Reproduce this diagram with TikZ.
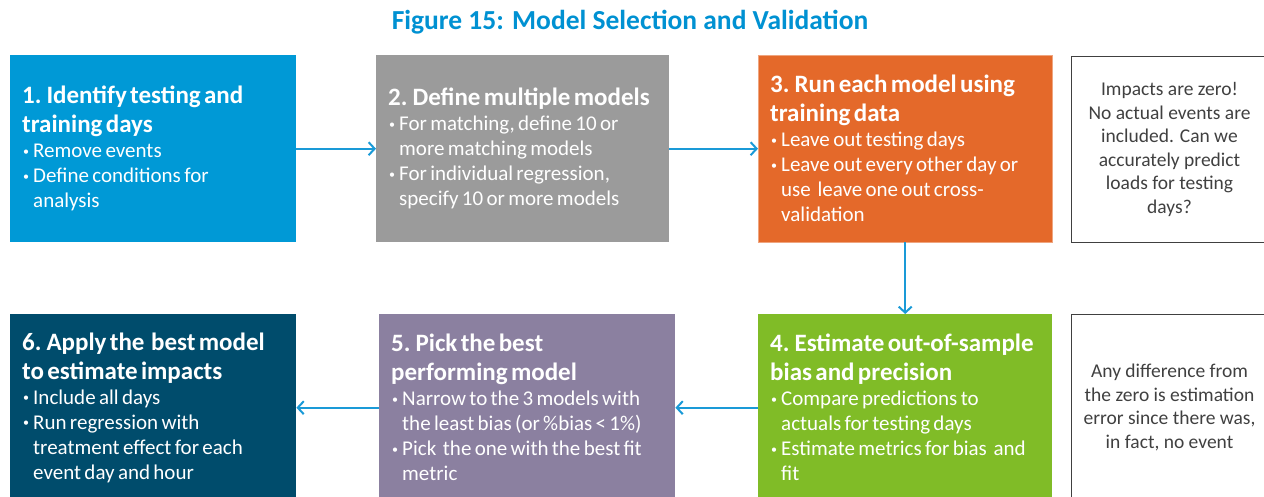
\documentclass[tikz,border=0pt]{standalone}
\usepackage{fontspec}
\setmainfont{Carlito}
\usetikzlibrary{arrows.meta}

\definecolor{titleblue}{RGB}{0,145,210}
\definecolor{identblue}{RGB}{0,153,214}
\definecolor{definegray}{RGB}{155,155,155}
\definecolor{runorange}{RGB}{228,105,42}
\definecolor{estgreen}{RGB}{128,188,39}
\definecolor{pickpurple}{RGB}{139,128,160}
\definecolor{applyteal}{RGB}{0,76,108}
\definecolor{flowblue}{RGB}{26,154,215}
\definecolor{notegray}{RGB}{64,64,64}

% heading and bullet lines inside the step boxes
\newcommand\hd[1]{{\fontsize{25}{29}\selectfont\bfseries #1\par}}
\newcommand\bul[1]{{\fontsize{21}{25}\selectfont\hangindent=11pt\hangafter=1\noindent
  \makebox[11pt][l]{\hspace{1pt}\raisebox{2.5pt}{\fontsize{12}{12}\selectfont\textbullet}}#1\par}}

\tikzset{
  stepbox/.style={rectangle, anchor=north west, text=white, align=left,
    minimum height=187pt, inner xsep=12pt, inner ysep=0pt},
  notebox/.style={rectangle, anchor=north west, draw=notegray, line width=1pt,
    text=notegray, align=center, minimum width=196pt, minimum height=186pt,
    font=\fontsize{19.5}{23.5}\selectfont},
  flow/.style={draw=flowblue, line width=2pt, -{Straight Barb[length=6pt,width=13pt]}}
}

\begin{document}
\begin{tikzpicture}[x=1pt, y=-1pt]
  \useasboundingbox (0,0) rectangle (1264,497);

  % Title
  \node[text=titleblue, font=\fontsize{27.5}{30}\selectfont\bfseries] (title) at (630,22)
    {Figure 15: Model Selection and Validation};

  % Top row
  \node[stepbox, fill=identblue, minimum width=286pt, text width=262pt] (s1) at (10,55)
    {\hd{1. Identify testing and\\training days}
     \bul{Remove events}
     \bul{Define conditions for\newline analysis}};
  \node[stepbox, fill=definegray, minimum width=293pt, text width=269pt] (s2) at (376,55)
    {\hd{2. Define multiple models}
     \bul{For matching, define 10 or\newline more matching models}
     \bul{For individual regression,\newline specify 10 or more models}};
  \node[stepbox, fill=runorange, draw=runorange!60, minimum width=294pt, text width=270pt] (s3) at (758,55)
    {\hd{3. Run each model using\\training data}
     \bul{Leave out testing days}
     \bul{Leave out every other day or\newline use\ \ leave one out cross-\newline validation}};
  \node[notebox] (n1) at (1071,56)
    {Impacts are zero!\\No actual events are\\included. Can we\\accurately predict\\loads for testing\\days?};

  % Bottom row
  \node[stepbox, fill=applyteal, minimum width=286pt, text width=262pt] (s6) at (10,314)
    {\hd{6. Apply the\ \ best model\\to estimate impacts}
     \bul{Include all days}
     \bul{Run regression with\newline treatment effect for each\newline event day and hour}};
  \node[stepbox, fill=pickpurple, minimum width=296pt, text width=272pt] (s5) at (379,314)
    {\hd{5. Pick the best\\performing model}
     \bul{Narrow to the 3 models with\newline the least bias (or \%bias < 1\%)}
     \bul{Pick\ \ the one with the best fit\newline metric}};
  \node[stepbox, fill=estgreen, minimum width=294pt, text width=270pt] (s4) at (758,314)
    {\hd{4. Estimate out-of-sample\\bias and precision}
     \bul{Compare predictions to\newline actuals for testing days}
     \bul{Estimate metrics for bias\ \ and\newline fit}};
  \node[notebox] (n2) at (1071,314)
    {Any difference from\\the zero is estimation\\error since there was,\\in fact, no event};

  % Flow between the steps
  \draw[flow] (s1) -- (s2);
  \draw[flow] (s2) -- (s3);
  \draw[flow] (s3) -- (s4);
  \draw[flow] (s4) -- (s5);
  \draw[flow] (s5) -- (s6);
\end{tikzpicture}
\end{document}
